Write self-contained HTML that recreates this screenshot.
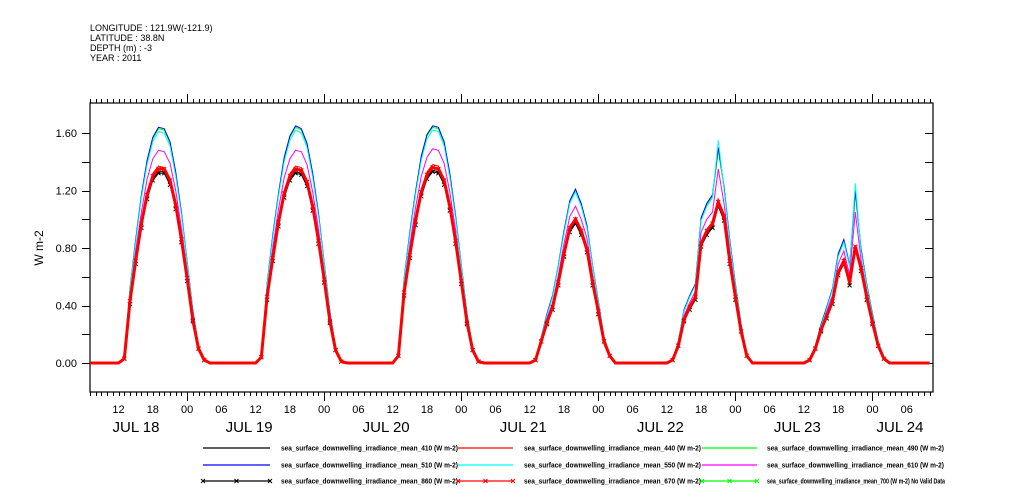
<!DOCTYPE html>
<html><head><meta charset="utf-8"><style>
body{margin:0;background:#fff;}
svg{display:block;font-family:"Liberation Sans",sans-serif;}
</style></head><body>
<svg id="chart" width="1009" height="504" viewBox="0 0 1009 504">
<rect width="1009" height="504" fill="#fff"/>
<g font-size="9" fill="#000">
<text x="90" y="31">LONGITUDE : 121.9W(-121.9)</text>
<text x="90" y="41">LATITUDE : 38.8N</text>
<text x="90" y="51">DEPTH (m) : -3</text>
<text x="90" y="61">YEAR : 2011</text>
</g>
<text x="43" y="248" font-size="12" text-anchor="middle" transform="rotate(-90 43 248)">W m-2</text>
<g id="axes"></g>
<g id="series"></g>
<g id="legend"></g>
</svg>
<script>
// time axis: hour 0 = JUL 18 07:00
const dayLabels = ["JUL 18","JUL 19","JUL 20","JUL 21","JUL 22","JUL 23","JUL 24"];
const yTicks = [0,0.2,0.4,0.6,0.8,1.0,1.2,1.4,1.6];
const yLabels = ["0.00","0.40","0.80","1.20","1.60"];
const seriesNames = ["410","440","490","510","550","610","860","670"];
// daily hourly values 13:00 -> 03:00 (next day), days JUL18..JUL23
const s410 = [[0.03,0.42,0.70,0.95,1.15,1.28,1.33,1.33,1.25,1.08,0.85,0.58,0.30,0.10,0.02],[0.04,0.45,0.72,0.96,1.16,1.28,1.33,1.32,1.24,1.07,0.84,0.57,0.29,0.09,0.01],[0.05,0.48,0.74,0.97,1.17,1.29,1.34,1.33,1.25,1.07,0.84,0.56,0.28,0.09,0.01],[0.02,0.15,0.28,0.38,0.55,0.75,0.92,0.98,0.90,0.78,0.55,0.35,0.15,0.05,0.0],[0.02,0.12,0.30,0.38,0.45,0.82,0.90,0.95,1.10,1.00,0.70,0.45,0.22,0.05,0.0],[0.02,0.10,0.22,0.32,0.42,0.62,0.70,0.55,0.80,0.65,0.45,0.28,0.12,0.03,0.0]];
const s440 = [[0.03,0.44,0.72,0.98,1.18,1.32,1.37,1.36,1.28,1.11,0.87,0.60,0.31,0.10,0.02],[0.04,0.46,0.74,0.99,1.19,1.32,1.37,1.36,1.27,1.10,0.86,0.59,0.30,0.09,0.01],[0.05,0.49,0.76,1.00,1.20,1.33,1.38,1.37,1.28,1.10,0.86,0.58,0.29,0.09,0.01],[0.02,0.15,0.29,0.39,0.57,0.77,0.95,1.01,0.93,0.80,0.57,0.36,0.15,0.05,0.0],[0.02,0.12,0.31,0.39,0.46,0.84,0.93,0.98,1.13,1.03,0.72,0.46,0.23,0.05,0.0],[0.02,0.10,0.23,0.33,0.43,0.64,0.72,0.57,0.82,0.67,0.46,0.29,0.12,0.03,0.0]];
const s490 = [[0.04,0.51,0.85,1.16,1.40,1.56,1.63,1.62,1.53,1.32,1.04,0.70,0.36,0.12,0.02],[0.05,0.54,0.88,1.17,1.42,1.57,1.64,1.62,1.52,1.31,1.03,0.69,0.35,0.11,0.01],[0.06,0.58,0.90,1.18,1.43,1.58,1.64,1.63,1.53,1.31,1.02,0.68,0.34,0.11,0.01],[0.02,0.18,0.34,0.47,0.67,0.91,1.12,1.20,1.10,0.95,0.67,0.43,0.18,0.06,0.0],[0.02,0.15,0.36,0.46,0.55,1.00,1.10,1.16,1.48,1.22,0.85,0.55,0.27,0.06,0.0],[0.02,0.12,0.27,0.39,0.51,0.75,0.85,0.67,1.18,0.79,0.55,0.34,0.15,0.04,0.0]];
const s510 = [[0.04,0.52,0.86,1.17,1.41,1.57,1.64,1.63,1.54,1.33,1.05,0.71,0.37,0.12,0.02],[0.05,0.55,0.89,1.18,1.43,1.58,1.65,1.63,1.53,1.32,1.04,0.70,0.36,0.11,0.01],[0.06,0.59,0.91,1.19,1.44,1.59,1.65,1.64,1.54,1.32,1.03,0.69,0.34,0.11,0.01],[0.02,0.18,0.34,0.47,0.68,0.92,1.13,1.21,1.11,0.96,0.68,0.43,0.18,0.06,0.0],[0.02,0.15,0.37,0.47,0.55,1.01,1.11,1.17,1.50,1.23,0.86,0.55,0.27,0.06,0.0],[0.02,0.12,0.27,0.39,0.52,0.76,0.86,0.68,1.20,0.80,0.55,0.34,0.15,0.04,0.0]];
const s550 = [[0.04,0.51,0.84,1.15,1.38,1.54,1.61,1.60,1.51,1.30,1.03,0.70,0.36,0.12,0.02],[0.05,0.54,0.87,1.16,1.40,1.55,1.62,1.60,1.50,1.29,1.02,0.69,0.35,0.11,0.01],[0.06,0.58,0.89,1.17,1.41,1.56,1.62,1.61,1.51,1.29,1.01,0.68,0.33,0.11,0.01],[0.02,0.18,0.33,0.46,0.67,0.90,1.11,1.19,1.09,0.94,0.67,0.42,0.18,0.06,0.0],[0.02,0.15,0.36,0.46,0.54,0.99,1.09,1.15,1.55,1.21,0.84,0.54,0.26,0.06,0.0],[0.02,0.12,0.26,0.38,0.51,0.74,0.84,0.67,1.25,0.78,0.54,0.33,0.15,0.04,0.0]];
const s610 = [[0.03,0.47,0.78,1.05,1.28,1.42,1.48,1.47,1.39,1.20,0.94,0.64,0.33,0.11,0.02],[0.04,0.50,0.80,1.07,1.29,1.42,1.48,1.47,1.38,1.19,0.93,0.63,0.32,0.10,0.01],[0.05,0.53,0.82,1.08,1.30,1.43,1.49,1.48,1.39,1.19,0.93,0.62,0.31,0.10,0.01],[0.02,0.17,0.31,0.42,0.61,0.83,1.02,1.09,1.00,0.87,0.61,0.39,0.17,0.06,0.0],[0.02,0.13,0.33,0.42,0.50,0.91,1.00,1.05,1.35,1.11,0.78,0.50,0.24,0.06,0.0],[0.02,0.11,0.24,0.36,0.47,0.69,0.78,0.61,1.05,0.72,0.50,0.31,0.13,0.03,0.0]];
const s860 = [[0.03,0.41,0.69,0.94,1.14,1.27,1.32,1.32,1.24,1.07,0.84,0.57,0.29,0.10,0.02],[0.04,0.44,0.71,0.95,1.15,1.27,1.32,1.31,1.23,1.06,0.83,0.56,0.28,0.09,0.01],[0.05,0.47,0.73,0.96,1.16,1.28,1.33,1.32,1.24,1.06,0.83,0.55,0.27,0.09,0.01],[0.02,0.15,0.27,0.37,0.54,0.74,0.91,0.97,0.89,0.77,0.54,0.34,0.15,0.05,0.0],[0.02,0.12,0.29,0.37,0.44,0.81,0.89,0.94,1.09,0.99,0.69,0.44,0.22,0.05,0.0],[0.02,0.10,0.22,0.31,0.41,0.61,0.69,0.54,0.79,0.64,0.44,0.27,0.12,0.03,0.0]];
const s670 = [[0.03,0.43,0.71,0.97,1.17,1.30,1.35,1.35,1.27,1.10,0.86,0.59,0.30,0.10,0.02],[0.04,0.46,0.73,0.98,1.18,1.30,1.35,1.34,1.26,1.09,0.85,0.58,0.29,0.09,0.01],[0.05,0.49,0.75,0.99,1.19,1.31,1.36,1.35,1.27,1.09,0.85,0.57,0.28,0.09,0.01],[0.02,0.15,0.28,0.39,0.56,0.76,0.94,1.00,0.92,0.79,0.56,0.36,0.15,0.05,0.0],[0.02,0.12,0.30,0.39,0.46,0.83,0.92,0.97,1.12,1.02,0.71,0.46,0.22,0.05,0.0],[0.02,0.10,0.23,0.33,0.43,0.63,0.71,0.56,0.81,0.66,0.46,0.28,0.12,0.03,0.0]];

const NS="http://www.w3.org/2000/svg";
const L=90,R=933,T=103,B=392;
const T0=0,T1=147.6;
function xs(h){return L+(h-T0)/(T1-T0)*(R-L);}
function ys(v){return 363-(v)*143.75;}
function mk(tag,attrs,parent){const e=document.createElementNS(NS,tag);for(const k in attrs)e.setAttribute(k,attrs[k]);parent.appendChild(e);return e;}
const axes=document.getElementById('axes');
const fr=mk('rect',{x:L,y:T,width:R-L,height:B-T,fill:'none',stroke:'#000','stroke-width':1.2},axes);


for(let h=0;h<=147;h++){
  const x=Math.round(xs(h))+0.5;const clock=(h+7)%24;const major=clock===0;
  const len=major?9:4;
  const tb=mk('line',{x1:x,y1:B,x2:x,y2:B+len,stroke:'#000','stroke-width':1},axes);
  
  
  const tt=mk('line',{x1:x,y1:T,x2:x,y2:T-len,stroke:'#000','stroke-width':1},axes);
  
  
  if(clock%6===0){
    const t=mk('text',{x:xs(h),y:413,'font-size':11,'text-anchor':'middle'},axes);
    t.textContent=String(clock).padStart(2,'0');
    
    
  }
}
for(let d=0;d<dayLabels.length;d++){
  let cx=xs(d*24-7)+62;
  cx=Math.max(136,Math.min(900,cx));
  const t=mk('text',{x:cx,y:432,'font-size':15,'text-anchor':'middle'},axes);
  t.textContent=dayLabels[d];
  
  
}
for(const v of yTicks){
  const y=Math.round(ys(v))+0.5;
  const a=mk('line',{x1:L-8,y1:y,x2:L,y2:y,stroke:'#000'},axes);
  
  
  const b=mk('line',{x1:R,y1:y,x2:R-8,y2:y,stroke:'#000'},axes);
  
  
}
yLabels.forEach(s=>{
  const t=mk('text',{x:77,y:ys(parseFloat(s))+4,'font-size':11,'text-anchor':'end'},axes);
  t.textContent=s;
  
  
});
function full(days){const arr=new Array(148).fill(0);days.forEach((dv,d)=>dv.forEach((v,i)=>{const h=d*24+6+i;if(h<148)arr[h]=v;}));return arr;}
const sg=document.getElementById('series');
const styles=[[s410,'#000',1,false],[s440,'#ff0000',1,false],[s490,'#00ff00',1,false],[s510,'#0000ff',1,false],[s550,'#00ffff',1,false],[s610,'#ff00ff',1,false],[s860,'#000',1,true],[s670,'#ff0000',3,true]];
styles.forEach((st,k)=>{
  const arr=full(st[0]);
  const pts=arr.map((v,h)=>xs(h).toFixed(1)+','+ys(v).toFixed(1)).join(' ');
  const p=mk('polyline',{points:pts,fill:'none',stroke:st[1],'stroke-width':st[2]},sg);
  
  
  if(st[3]){arr.forEach((v,h)=>{if(v>0){const x=xs(h),y=ys(v);
    const m=mk('path',{d:`M${x-2},${y-2}L${x+2},${y+2}M${x-2},${y+2}L${x+2},${y-2}`,stroke:st[1],'stroke-width':1},sg);
    
    }});}
});
const lg=document.getElementById('legend');
const legItems=[
 [203,270,281,448,'#000',false,'sea_surface_downwelling_irradiance_mean_410 (W m-2)'],
 [458,513,524,448,'#ff0000',false,'sea_surface_downwelling_irradiance_mean_440 (W m-2)'],
 [702,757,767,448,'#00ff00',false,'sea_surface_downwelling_irradiance_mean_490 (W m-2)'],
 [203,270,281,465,'#0000ff',false,'sea_surface_downwelling_irradiance_mean_510 (W m-2)'],
 [458,513,524,465,'#00ffff',false,'sea_surface_downwelling_irradiance_mean_550 (W m-2)'],
 [702,757,767,465,'#ff00ff',false,'sea_surface_downwelling_irradiance_mean_610 (W m-2)'],
 [203,270,281,481,'#000',true,'sea_surface_downwelling_irradiance_mean_860 (W m-2)'],
 [458,513,524,481,'#ff0000',true,'sea_surface_downwelling_irradiance_mean_670 (W m-2)'],
 [702,757,767,481,'#00ff00',true,'sea_surface_downwelling_irradiance_mean_700 (W m-2) No Valid Data']];
legItems.forEach(it=>{
  const g=mk('g',{},lg);
  
  
  mk('line',{x1:it[0],y1:it[3],x2:it[1],y2:it[3],stroke:it[4],'stroke-width':1.3},g);
  if(it[5]){[it[0],(it[0]+it[1])/2,it[1]].forEach(x=>mk('path',{d:`M${x-2},${it[3]-2}L${x+2},${it[3]+2}M${x-2},${it[3]+2}L${x+2},${it[3]-2}`,stroke:it[4]},g));}
  const len=it[6].includes('No Valid')?178:177;
  const t=mk('text',{x:it[2],y:it[3]+2.5,'font-size':7,'font-weight':'bold',textLength:len,lengthAdjust:'spacingAndGlyphs'},g);
  t.textContent=it[6];
});
</script>
</body></html>
